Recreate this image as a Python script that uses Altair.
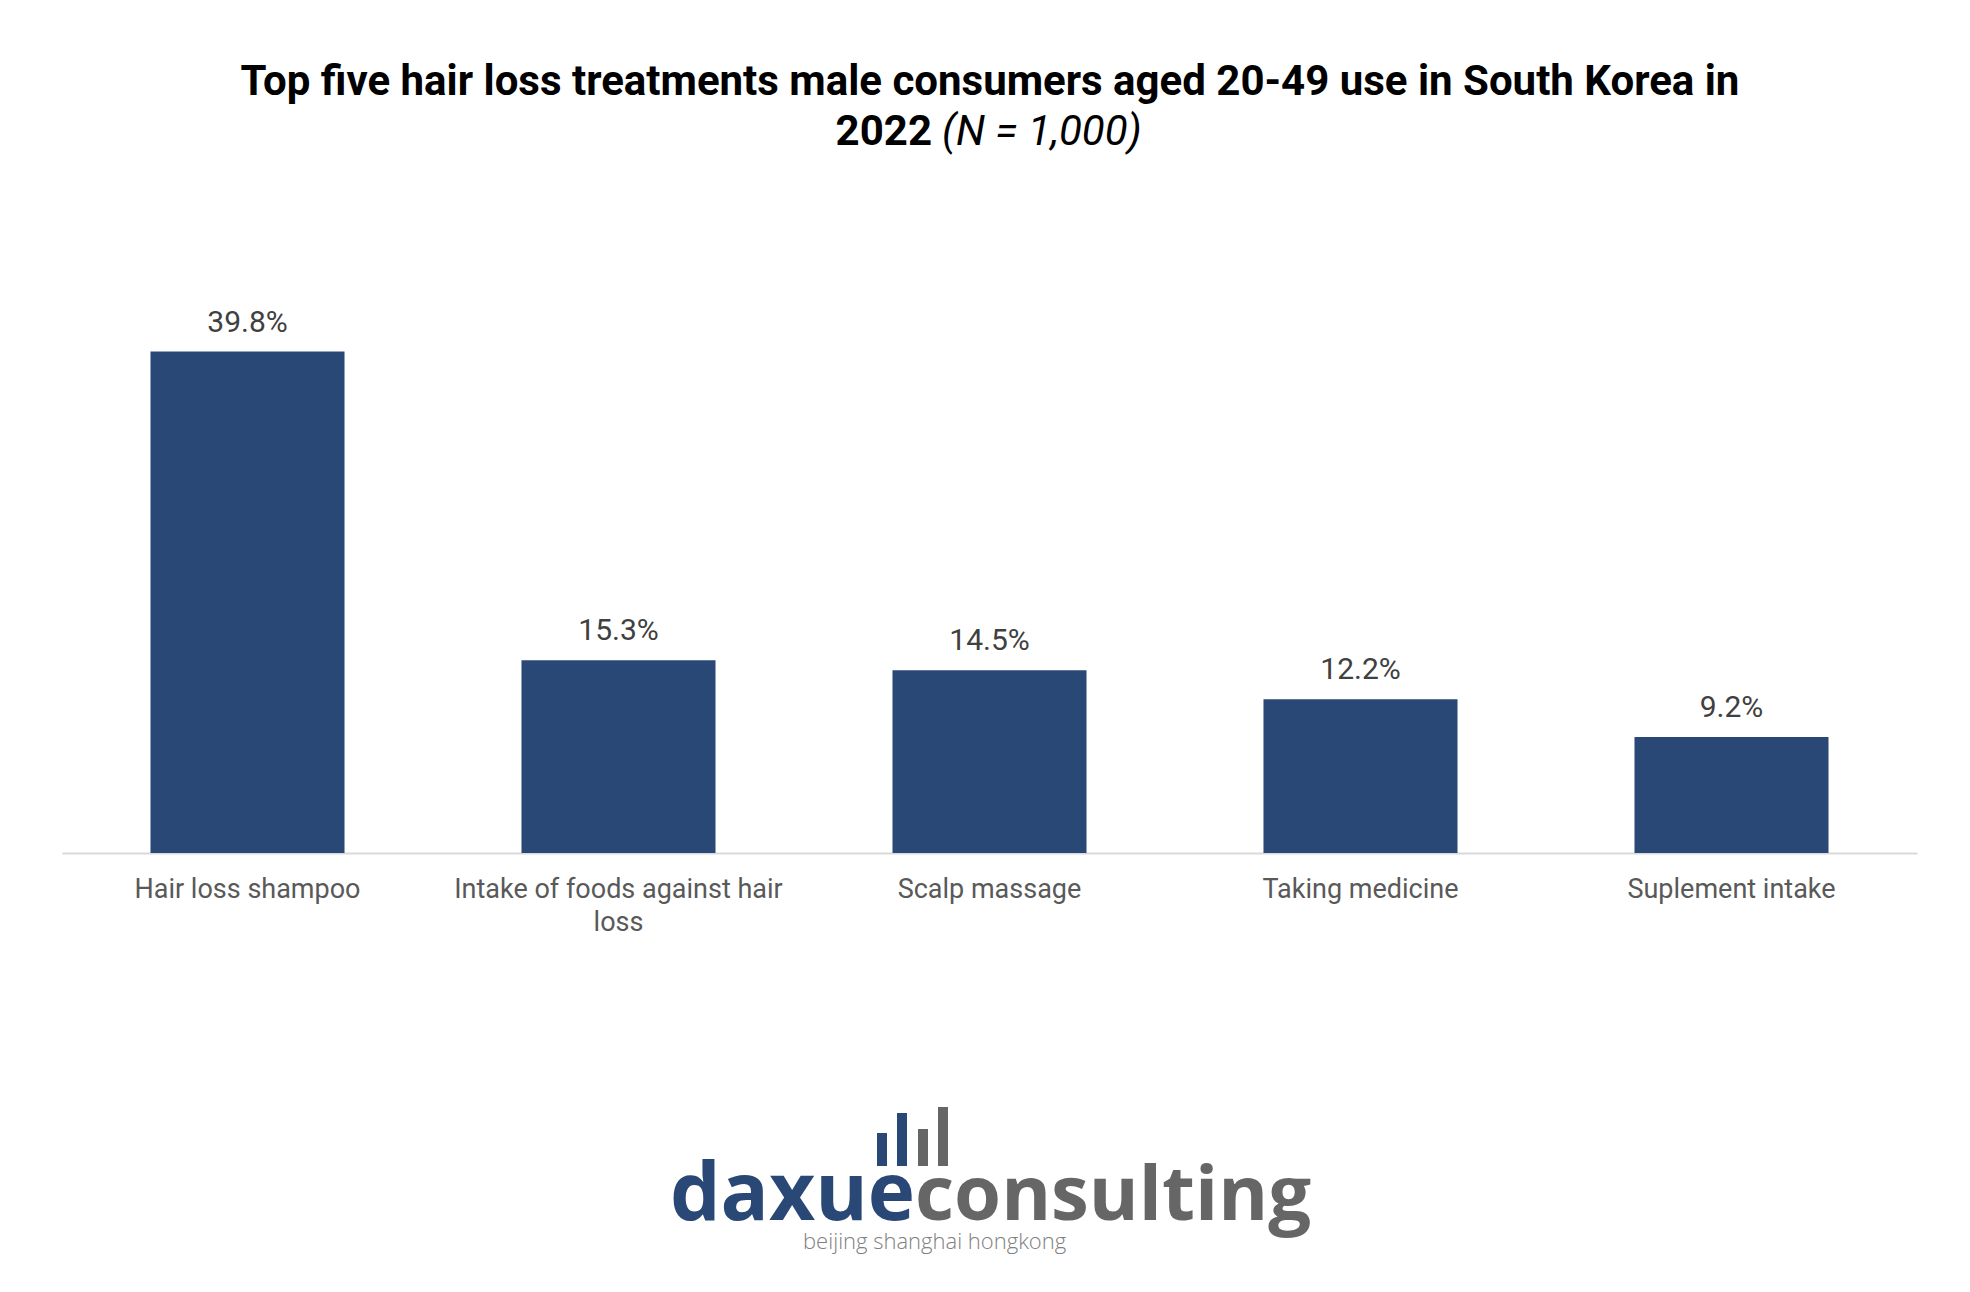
import altair as alt
import pandas as pd

categories = ["Hair loss shampoo", "Intake of foods against hair loss", "Scalp massage",
              "Taking medicine", "Suplement intake"]
values = [39.8, 15.3, 14.5, 12.2, 9.2]
labels = ["39.8%", "15.3%", "14.5%", "12.2%", "9.2%"]

df = pd.DataFrame({"cat": categories, "val": values, "lab": labels})
one = pd.DataFrame({"k": [0]})

W, H = 1855, 567
BLUE = "#2A4876"
GREY = "#666666"

x = alt.X("cat:N", sort=categories, title=None,
          scale=alt.Scale(paddingInner=0.477, paddingOuter=0.2385),
          axis=alt.Axis(labelAngle=0, labelFont="Roboto", labelFontSize=27,
                        labelColor="#595959", labelPadding=23, ticks=False,
                        domainColor="#d9d9d9", domainWidth=2, labelLimit=400,
                        labelLineHeight=33,
                        labelExpr="datum.label == 'Intake of foods against hair loss' ? ['Intake of foods against hair', 'loss'] : datum.label"))
y = alt.Y("val:Q", scale=alt.Scale(domain=[0, 45], nice=False), axis=None)

base = alt.Chart(df)
bars = base.mark_bar(color=BLUE).encode(x=x, y=y)
txt = base.mark_text(font="Roboto", fontSize=30, color="#404040", baseline="alphabetic",
                     dy=-20).encode(x=alt.X("cat:N", sort=categories), y=y, text="lab:N")

def t(text, xx, yy, **kw):
    return alt.Chart(one).mark_text(text=text, **kw).encode(x=alt.value(xx), y=alt.value(yy))

OX, OY = 62, 286
title1 = t("Top five hair loss treatments male consumers aged 20-49 use in South Korea in",
           990 - OX, 82 - OY, font="Roboto", fontSize=42, fontWeight="bold", color="#000000",
           align="center", baseline="middle")
title2a = t("2022", 932 - OX, 132 - OY, font="Roboto", fontSize=42, fontWeight="bold",
            color="#000000", align="right", baseline="middle")
title2b = t("(N = 1,000)", 942 - OX, 132 - OY, font="Roboto", fontSize=42, fontStyle="italic",
            color="#000000", align="left", baseline="middle")

logo1 = t("daxue", 915 - OX, 1220 - OY, font="Open Sans", fontSize=80, fontWeight="bold",
          color=BLUE, align="right", baseline="alphabetic")
logo2 = t("consulting", 915 - OX, 1220 - OY, font="Open Sans", fontSize=76, fontWeight="bold",
          color=GREY, align="left", baseline="alphabetic")
logo3 = t("beijing shanghai hongkong", 803 - OX, 1249 - OY, font="Open Sans", fontSize=22,
          fontWeight=300, color="#808080", align="left", baseline="alphabetic")

icon_x = [882, 902, 923, 943]
icon_top = [1133, 1113, 1129, 1107]
icon_col = [BLUE, BLUE, GREY, GREY]
icons = []
for ix, it, ic in zip(icon_x, icon_top, icon_col):
    icons.append(alt.Chart(one).mark_rule(color=ic, strokeWidth=10).encode(
        x=alt.value(ix - OX), y=alt.value(it - OY), y2=alt.value(1166 - OY)))

chart = alt.layer(bars, txt, title1, title2a, title2b, logo1, logo2, logo3, *icons).properties(
    width=W, height=H,
    background="white",
    autosize=alt.AutoSizeParams(type="none"),
    padding={"left": OX, "top": OY, "right": 1970 - OX - W, "bottom": 1292 - OY - H},
).configure_view(stroke="transparent", strokeWidth=0)

chart.save("out.html", embed_options={"renderer": "svg", "actions": False})
